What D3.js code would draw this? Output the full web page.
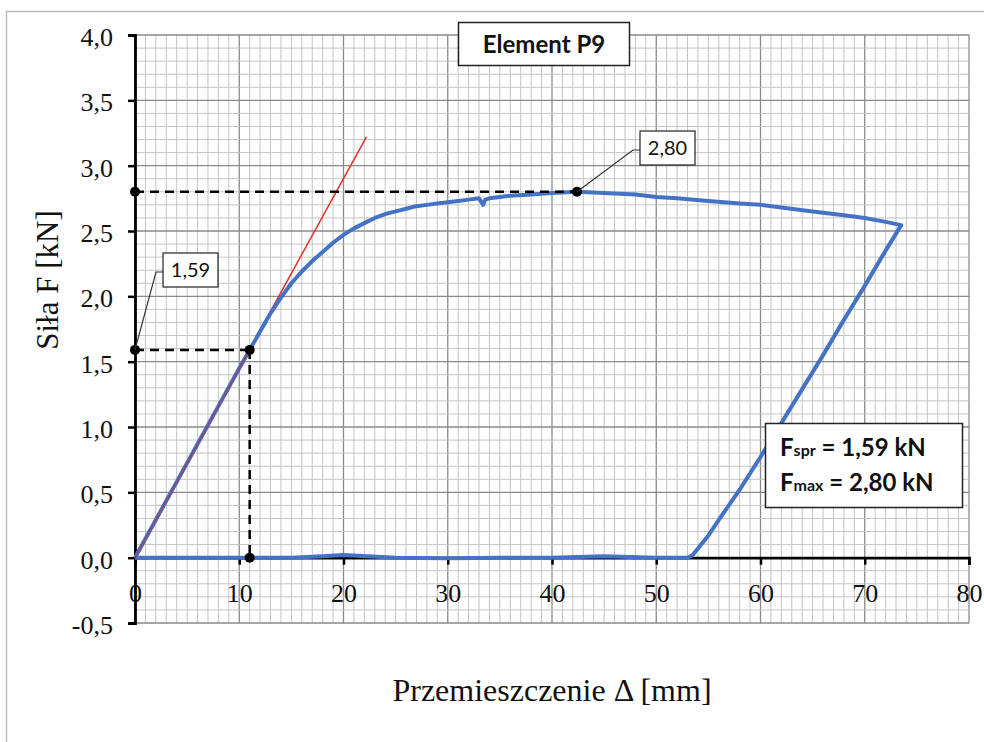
<!DOCTYPE html>
<html>
<head>
<meta charset="utf-8">
<script src="https://cdn.jsdelivr.net/npm/d3@7"></script>
<style>
  body { margin: 0; background: #fff; }
  svg { display: block; }
</style>
</head>
<body>
<div class="chart"></div>
<script>
var svgWidth = 984;
var svgHeight = 742;

// plot area in pixels
var margin = { top: 35, right: 15, bottom: 119, left: 135 };
var width = svgWidth - margin.left - margin.right;
var height = svgHeight - margin.top - margin.bottom;

// axis ticks
var xTicks = [0, 10, 20, 30, 40, 50, 60, 70, 80];
var yTicks = [-0.5, 0, 0.5, 1.0, 1.5, 2.0, 2.5, 3.0, 3.5, 4.0];

// measured curve: loading, plateau, unloading, return along zero
var curveX = [0, 2, 4, 6, 8, 10, 11, 12, 13, 14, 15, 16, 17, 18, 19, 20, 21, 22, 23, 24, 25, 26, 27, 28, 29, 30,
  31, 32, 33, 33.4, 33.6, 34, 35, 36, 38, 40, 42.4, 45, 48, 50, 52, 55, 58, 60, 62, 65, 68, 70, 72, 73.5,
  72, 70, 68, 66, 64, 62, 60, 58, 56, 55, 54, 53.5, 53,
  50, 45, 40, 35, 30, 25, 20, 18, 15, 11, 5, 0];
var curveY = [0, 0.29, 0.58, 0.87, 1.16, 1.45, 1.59, 1.73, 1.87, 1.99, 2.10, 2.19, 2.27, 2.34, 2.41, 2.47, 2.52, 2.56, 2.60, 2.63, 2.65, 2.67, 2.69, 2.70, 2.71, 2.72,
  2.73, 2.74, 2.75, 2.70, 2.74, 2.75, 2.76, 2.77, 2.78, 2.79, 2.80, 2.79, 2.78, 2.76, 2.75, 2.73, 2.71, 2.70, 2.68, 2.65, 2.62, 2.60, 2.57, 2.545,
  2.35, 2.08, 1.82, 1.55, 1.29, 1.03, 0.77, 0.52, 0.29, 0.17, 0.07, 0.02, 0,
  0, 0.01, 0, 0, -0.005, 0, 0.02, 0.01, 0, 0, 0, 0];

// tangent (elastic line)
var tangentX = [0, 22.2];
var tangentY = [0, 3.22];

// characteristic values
var fSpr = 1.59, dSpr = 11.0;
var fMax = 2.80, dMax = 42.4;
var titleText = "Element P9";
var xTitle = "Przemieszczenie \u0394 [mm]";
var yTitle = "Siła F [kN]";

var fmt = d => d.toFixed(2).replace(".", ",");
var serif = "'Liberation Serif', 'Times New Roman', serif";
var sans = "Lato, 'Open Sans', sans-serif";

var svg = d3.select(".chart").append("svg")
  .attr("width", svgWidth)
  .attr("height", svgHeight);

// outer chart frame
svg.append("rect")
  .attr("x", 6.5).attr("y", 11.5)
  .attr("width", 1000).attr("height", 800)
  .attr("fill", "#fff")
  .attr("stroke", "#bdbdbd")
  .attr("stroke-width", 1.5);

var chartGroup = svg.append("g")
  .attr("transform", `translate(${margin.left}, ${margin.top})`);

var x = d3.scaleLinear().domain([0, 80]).range([0, width]);
var y = d3.scaleLinear().domain([-0.5, 4.0]).range([height, 0]);

// grid: 1 mm and 0.1 kN
var gridG = chartGroup.append("g");
gridG.selectAll(".vminor")
  .data(d3.range(0, 81))
  .enter().append("line")
  .attr("x1", d => x(d)).attr("x2", d => x(d))
  .attr("y1", 0).attr("y2", height)
  .attr("stroke", d => d % 10 === 0 ? "#8a8a8a" : "#c4c4c4")
  .attr("stroke-width", d => d % 10 === 0 ? 1.3 : 1);
gridG.selectAll(".hminor")
  .data(d3.range(-5, 41))
  .enter().append("line")
  .attr("x1", 0).attr("x2", width)
  .attr("y1", d => y(d / 10)).attr("y2", d => y(d / 10))
  .attr("stroke", d => d % 5 === 0 ? "#8a8a8a" : "#c4c4c4")
  .attr("stroke-width", d => d % 5 === 0 ? 1.3 : 1);

// axes
var xAxis = chartGroup.append("g")
  .attr("transform", `translate(0, ${y(0)})`)
  .call(d3.axisBottom(x).tickValues(xTicks).tickSize(7).tickPadding(19).tickFormat(d3.format("d")));
var yAxis = chartGroup.append("g")
  .call(d3.axisLeft(y).tickValues(yTicks).tickSize(7).tickPadding(15)
    .tickFormat(d => d.toFixed(1).replace(".", ",")));

[xAxis, yAxis].forEach(function(a) {
  a.attr("font-family", null).attr("font-size", null);
  a.select(".domain").attr("stroke-width", 2.8).attr("stroke", "#000");
  a.selectAll(".tick line").attr("stroke-width", 2.5).attr("stroke", "#000");
  a.selectAll("text")
    .style("font-family", serif)
    .style("font-size", "26px")
    .attr("fill", "#111");
});
yAxis.selectAll("text").attr("dy", "0.4em");

// curve
var lineGen = d3.line().x(d => x(d[0])).y(d => y(d[1]));
var curve = d3.zip(curveX, curveY);

chartGroup.append("path")
  .datum(d3.zip(tangentX, tangentY))
  .attr("d", lineGen)
  .attr("fill", "none")
  .attr("stroke", "#e0302a")
  .attr("stroke-width", 1.5);

chartGroup.append("path")
  .datum(curve)
  .attr("d", lineGen)
  .attr("fill", "none")
  .attr("stroke", "#4472c4")
  .attr("stroke-width", 4)
  .attr("stroke-linejoin", "round");

// tangent drawn again over the loading branch (red shows through in reference)
chartGroup.append("path")
  .datum([[0, 0], [dSpr, fSpr]])
  .attr("d", lineGen)
  .attr("fill", "none")
  .attr("stroke", "#b0304a")
  .attr("stroke-opacity", 0.7)
  .attr("stroke-width", 1.5);

// dashed guides
var dashes = [
  [[0, fMax], [dMax, fMax]],
  [[0, fSpr], [dSpr, fSpr]],
  [[dSpr, fSpr], [dSpr, 0]]
];
chartGroup.selectAll(".guide")
  .data(dashes)
  .enter().append("path")
  .attr("d", lineGen)
  .attr("fill", "none")
  .attr("stroke", "#000")
  .attr("stroke-width", 2.5)
  .attr("stroke-dasharray", "9,6");

var dots = [[0, fMax], [dMax, fMax], [0, fSpr], [dSpr, fSpr], [dSpr, 0]];
chartGroup.selectAll(".dot")
  .data(dots)
  .enter().append("circle")
  .attr("cx", d => x(d[0]))
  .attr("cy", d => y(d[1]))
  .attr("r", 5)
  .attr("fill", "#000");

// value callouts
function callout(px, py, bx, by, txt) {
  chartGroup.append("polyline")
    .attr("points", [[px, py], [bx - 7, by + 19], [bx, by + 19]].map(p => p.join(",")).join(" "))
    .attr("fill", "none")
    .attr("stroke", "#333")
    .attr("stroke-width", 1.2);
  chartGroup.append("rect")
    .attr("x", bx).attr("y", by)
    .attr("width", 55).attr("height", 34)
    .attr("fill", "#fff")
    .attr("stroke", "#222")
    .attr("stroke-width", 1.2);
  chartGroup.append("text")
    .attr("x", bx + 27.5).attr("y", by + 24)
    .attr("text-anchor", "middle")
    .attr("font-family", sans)
    .attr("font-size", "20px")
    .attr("fill", "#111")
    .text(txt);
}
callout(x(0), y(fSpr), 28, 218, fmt(fSpr));
callout(x(dMax), y(fMax), 505, 96, fmt(fMax));

// title box
svg.append("rect")
  .attr("x", 458.5).attr("y", 22.5)
  .attr("width", 171).attr("height", 43)
  .attr("fill", "#fff")
  .attr("stroke", "#222")
  .attr("stroke-width", 1.5);
svg.append("text")
  .attr("x", 544).attr("y", 53)
  .attr("text-anchor", "middle")
  .attr("font-family", sans)
  .attr("font-weight", "bold")
  .attr("font-size", "24px")
  .attr("fill", "#111")
  .text(titleText);

// result box
svg.append("rect")
  .attr("x", 765.5).attr("y", 423.5)
  .attr("width", 197).attr("height", 84)
  .attr("fill", "#fff")
  .attr("stroke", "#222")
  .attr("stroke-width", 1.5);
var resLines = [["spr", fSpr], ["max", fMax]];
resLines.forEach(function(r, i) {
  var t = svg.append("text")
    .attr("x", 780).attr("y", 456 + i * 35)
    .attr("font-family", sans)
    .attr("font-weight", "bold")
    .attr("font-size", "24px")
    .attr("fill", "#111");
  t.append("tspan").text("F");
  t.append("tspan").attr("font-size", "16px").text(r[0]);
  t.append("tspan").text(" = " + fmt(r[1]) + " kN");
});

// axis titles
svg.append("text")
  .attr("x", 552).attr("y", 701)
  .attr("text-anchor", "middle")
  .attr("font-family", serif)
  .attr("font-size", "32px")
  .attr("fill", "#111")
  .text(xTitle);
svg.append("text")
  .attr("transform", "translate(58, 280) rotate(-90)")
  .attr("text-anchor", "middle")
  .attr("font-family", serif)
  .attr("font-size", "31px")
  .attr("fill", "#111")
  .text(yTitle);
</script>
</body>
</html>
